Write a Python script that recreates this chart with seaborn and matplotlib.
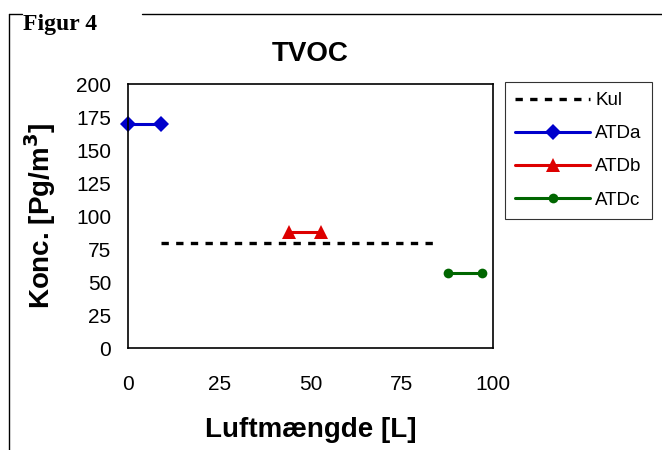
import matplotlib
matplotlib.use("Agg")
import matplotlib.pyplot as plt
import seaborn as sns
from matplotlib.lines import Line2D

# Data
kul_x = [9, 84]
kul_y = [80, 80]
atda_x = [0, 9]
atda_y = [170, 170]
atdb_x = [44, 53]
atdb_y = [88, 88]
atdc_x = [87.5, 97]
atdc_y = [57, 57]

x_ticks = [0, 25, 50, 75, 100]
y_ticks = [0, 25, 50, 75, 100, 125, 150, 175, 200]

sns.set_theme(style="white")
plt.rcParams['font.family'] = ['Liberation Sans', 'DejaVu Sans']
plt.rcParams['text.color'] = 'black'
plt.rcParams['axes.labelcolor'] = 'black'

fig = plt.figure(figsize=(6.62, 4.5), dpi=100)
ax = fig.add_axes([0.193, 0.226, 0.552, 0.587])

sns.lineplot(x=kul_x, y=kul_y, ax=ax, color="black", linewidth=2.4,
             label="Kul")
ax.lines[-1].set_dashes((2.2, 2.2))
sns.lineplot(x=atda_x, y=atda_y, ax=ax, color="#0000cc", linewidth=2.2,
             marker="D", markersize=8, markeredgewidth=0, label="ATDa")
sns.lineplot(x=atdb_x, y=atdb_y, ax=ax, color="#dd0000", linewidth=2.2,
             marker="^", markersize=10, markeredgewidth=0, label="ATDb")
sns.lineplot(x=atdc_x, y=atdc_y, ax=ax, color="#006600", linewidth=2.2,
             marker="o", markersize=7, markeredgewidth=0, label="ATDc")

for m in ax.lines:
    m.set_clip_on(False)

ax.set_xlim(0, 100)
ax.set_ylim(0, 200)
ax.set_xticks(x_ticks)
ax.set_yticks(y_ticks)
ax.tick_params(axis="both", direction="out", length=5, width=1, color="black",
               labelsize=15, labelcolor="black")
ax.tick_params(axis="x", pad=14)
ax.tick_params(axis="y", pad=7)
for s in ax.spines.values():
    s.set_visible(True)
    s.set_color("black")
    s.set_linewidth(1.2)

ax.set_title("TVOC", fontsize=20, fontweight="bold", pad=17, color="black")
ax.set_xlabel("Luftmængde [L]", fontsize=20, fontweight="bold", labelpad=17)
ax.set_ylabel(r"Konc. [Pg/m$^{\mathbf{3}}$]", fontsize=20, fontweight="bold",
              labelpad=13)

leg = ax.legend(loc="upper left", bbox_to_anchor=(0.763, 0.818),
                bbox_transform=fig.transFigure, frameon=True,
                fancybox=False, edgecolor="black", fontsize=13.5,
                handlelength=4.0, borderpad=0.55, labelspacing=0.85,
                handletextpad=0.25, borderaxespad=0)
leg.get_frame().set_linewidth(0.8)
for t in leg.get_texts():
    t.set_color("black")

# outer frame around the figure
fig.add_artist(Line2D([0.013, 0.013], [0.97, 0.0], color="black", lw=1,
                      transform=fig.transFigure))
fig.add_artist(Line2D([0.013, 0.033], [0.97, 0.97], color="black", lw=1,
                      transform=fig.transFigure))
fig.add_artist(Line2D([0.214, 1.0], [0.97, 0.97], color="black", lw=1,
                      transform=fig.transFigure))
fig.text(0.034, 0.968, "Figur 4", fontsize=17, fontweight="bold",
         family=["Liberation Serif", "DejaVu Serif"], va="top", ha="left")

fig.savefig("out.png", dpi=100)
